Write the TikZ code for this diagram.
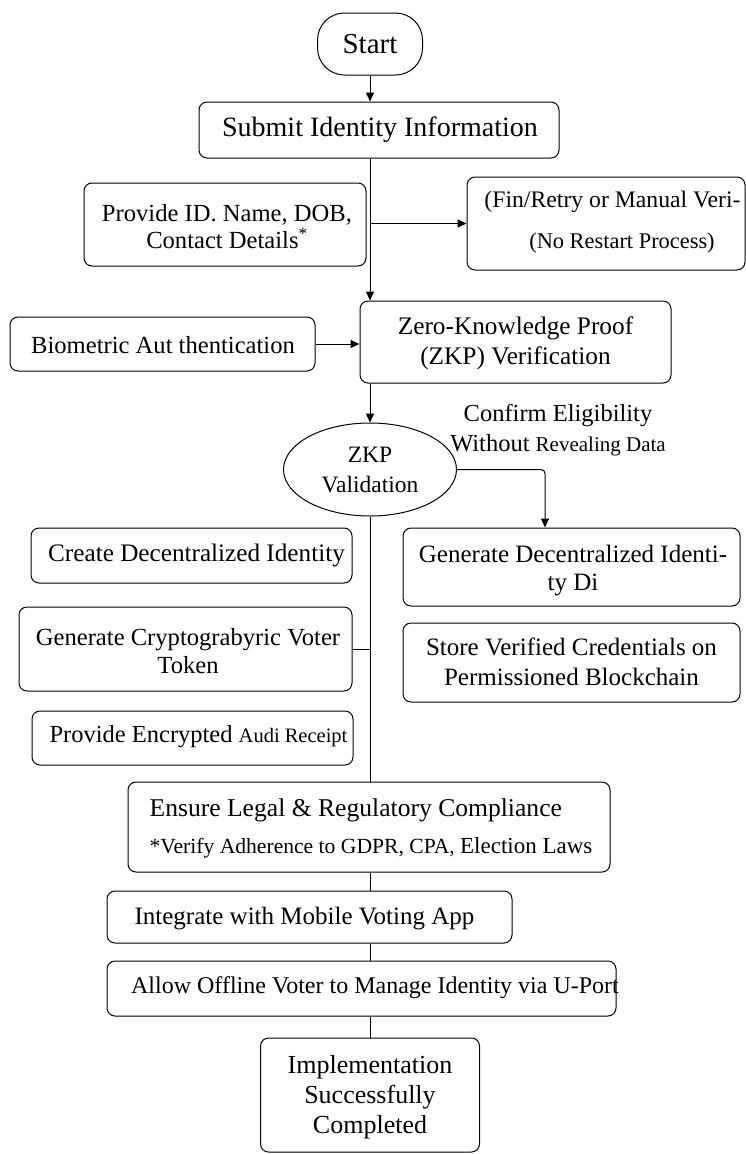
\documentclass[tikz,border=0pt]{standalone}
\usepackage{fontspec}
\setmainfont{Liberation Serif}
\usetikzlibrary{shapes.geometric,arrows.meta}
\newcommand{\fsz}[2]{\fontsize{#1}{#2}\selectfont}
\begin{document}
\begin{tikzpicture}[x=1pt,y=-1pt,
  box/.style={draw, line width=1pt, rounded corners=8pt, inner sep=0pt},
  txt/.style={inner sep=0pt, align=center},
  arr/.style={line width=1pt, -{Triangle[length=9pt,width=8pt]}},
  ln/.style={line width=1pt}]
\useasboundingbox (0,0) rectangle (746,1154);
\coordinate (mx) at (370,0);

% boxes
\node[box, rounded corners=27pt, minimum width=105pt, minimum height=62pt] (start) at (370,44) {};
\node[txt, font=\fsz{29}{32}] (start-t) at (370,44) {Start};

\node[box, minimum width=360pt, minimum height=56pt] (submit) at (379,130) {};
\node[txt, font=\fsz{28}{32}] (submit-t) at (380,130) {Submit Identity Information};

\node[box, minimum width=282pt, minimum height=83pt] (provide) at (225,224.5) {};
\node[txt, font=\fsz{24.6}{27}] (provide-t) at (227,226.5) {Provide ID. Name, DOB,\\Contact Details\textsuperscript{*}};

\node[box, minimum width=278pt, minimum height=93pt] (fin) at (606,223.5) {};
\node[txt, font=\fsz{23.7}{27}] (fin-t1) at (612.5,202) {(Fin/Retry or Manual Veri-};
\node[txt, font=\fsz{22.4}{26}] (fin-t2) at (622,243) {(No Restart Process)};

\node[box, minimum width=305pt, minimum height=54pt] (bio) at (162.5,344) {};
\node[txt, font=\fsz{24.6}{28}] (bio-t) at (163,345) {Biometric Aut thentication};

\node[box, minimum width=311pt, minimum height=82pt] (zkp) at (515.5,342) {};
\node[txt, font=\fsz{25.3}{30}] (zkp-t) at (515.5,343) {Zero-Knowledge Proof\\(ZKP) Verification};

\node[draw, ellipse, line width=1pt, inner sep=0pt, minimum width=173pt, minimum height=93pt] (val) at (370,469.5) {};
\node[txt, font=\fsz{23.5}{30}] (val-t) at (370,470) {ZKP\\Validation};

\node[txt, font=\fsz{24.5}{30}] (confirm) at (558,430) {Confirm Eligibility\\Without {\fsz{21}{30}Revealing Data}};

\node[box, minimum width=321pt, minimum height=55pt] (create) at (191.5,555.5) {};
\node[txt, font=\fsz{25.2}{28}] (create-t) at (196.5,555.5) {Create Decentralized Identity};

\node[box, minimum width=337pt, minimum height=78pt] (gendec) at (571.5,567) {};
\node[txt, font=\fsz{25}{28}] (gendec-t) at (573,571) {Generate Decentralized Identi-\\ty Di};

\node[box, minimum width=333pt, minimum height=84pt] (gencrypto) at (185.5,649) {};
\node[txt, font=\fsz{24.6}{28}] (gencrypto-t) at (188,651) {Generate Cryptograbyric Voter\\Token};

\node[box, minimum width=337pt, minimum height=79pt] (store) at (571.5,662.5) {};
\node[txt, font=\fsz{25}{30}] (store-t) at (571.5,662) {Store Verified Credentials on\\Permissioned Blockchain};

\node[box, minimum width=321pt, minimum height=54pt] (encr) at (192.5,738) {};
\node[txt, font=\fsz{24.5}{28}] (encr-t) at (198.5,737) {Provide Encrypted {\fsz{20.5}{28}Audi Receipt}};

\node[box, minimum width=482pt, minimum height=90pt] (ensure) at (369,827) {};
\node[txt, align=left, font=\fsz{25.6}{37}] (ensure-t) at (371,828.5) {Ensure Legal \& Regulatory Compliance\\{\fsz{21.6}{37}*Verify Adherence to GDPR, CPA, {\fsz{23}{37}Election Laws}}};

\node[box, minimum width=405pt, minimum height=52pt] (integ) at (309.5,917) {};
\node[txt, font=\fsz{25}{28}] (integ-t) at (304.5,919) {Integrate with Mobile Voting App};

\node[box, minimum width=509pt, minimum height=55pt] (allow) at (361.5,988.5) {};
\node[txt, font=\fsz{24}{28}] (allow-t) at (375,988) {Allow Offline Voter to Manage Identity via U-Port};

\node[box, minimum width=219pt, minimum height=114pt] (impl) at (370,1095) {};
\node[txt, font=\fsz{26}{30}] (impl-t) at (370,1097) {Implementation\\Successfully\\Completed};

% connectors
\draw[arr] (start.south) -- (start.south |- submit.north);
\draw[arr] (submit.south -| mx) -- (zkp.north -| mx);
\draw[arr] (mx |- fin.west) -- (fin.west);
\draw[arr] (bio.east) -- (zkp.west |- bio.east);
\draw[arr] (zkp.south -| mx) -- (val.north);
\draw[arr, rounded corners=4pt] (val.east) -| ([xshift=-26.5pt]gendec.north);
\draw[ln] (val.south) -- (ensure.north -| mx);
\draw[ln] (gencrypto.east) -- (gencrypto.east -| mx);
\draw[ln] (ensure.south -| mx) -- (integ.north -| mx);
\draw[ln] (integ.south -| mx) -- (allow.north -| mx);
\draw[ln] (allow.south -| mx) -- (impl.north);
\end{tikzpicture}
\end{document}
